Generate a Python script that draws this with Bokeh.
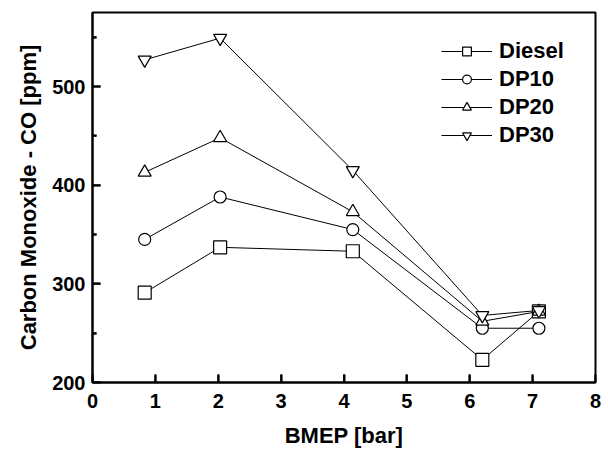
import math
from bokeh.plotting import figure
from bokeh.models import Range1d, FixedTicker, Legend, LegendItem
from bokeh.embed import file_html
from bokeh.resources import INLINE

bmep = [0.83, 2.03, 4.14, 6.2, 7.1]
diesel = [291, 337, 333, 223, 272]
dp10 = [345, 388, 355, 255, 255]
dp20 = [413, 448, 373, 262, 272]
dp30 = [527, 549, 415, 268, 273]
series_names = ["Diesel", "DP10", "DP20", "DP30"]
markers = ["square", "circle", "triangle", "inverted_triangle"]

x_ticks = [0, 1, 2, 3, 4, 5, 6, 7, 8]
y_major = [200, 300, 400, 500]
y_minor = [250, 350, 450, 550]
x_min, x_max = 0, 8
y_min, y_max = 200, 575

FONT = "Liberation Sans"

p = figure(width=608, height=451, output_backend="svg", toolbar_location=None,
           x_range=Range1d(x_min, x_max), y_range=Range1d(y_min, y_max),
           min_border_left=92, min_border_right=13, min_border_top=12, min_border_bottom=69)

p.outline_line_color = "black"
p.outline_line_width = 2
p.xgrid.visible = False
p.ygrid.visible = False
p.background_fill_color = "white"
p.border_fill_color = "white"

# inward tick marks as short screen-length rays from the frame edges
p.ray(x=[x_min] * len(y_major), y=y_major, length=8, angle=0, length_units="screen",
      line_color="black", line_width=2)
p.ray(x=[x_min] * len(y_minor), y=y_minor, length=4, angle=0, length_units="screen",
      line_color="black", line_width=2)
p.ray(x=x_ticks, y=[y_min] * len(x_ticks), length=8, angle=math.pi / 2, length_units="screen",
      line_color="black", line_width=2)

items = []
for name, vals, mk in zip(series_names, [diesel, dp10, dp20, dp30], markers):
    l = p.line(bmep, vals, line_color="black", line_width=1)
    s = p.scatter(bmep, vals, marker=mk, size=13 if mk != "circle" else 12,
                  fill_color="white", line_color="black", line_width=1.2)
    items.append(LegendItem(label=name, renderers=[l, s]))

legend = Legend(items=items)
legend.border_line_color = None
legend.background_fill_alpha = 0
legend.label_text_font = FONT
legend.label_text_font_style = "bold"
legend.label_text_font_size = "22px"
legend.label_text_color = "black"
legend.glyph_width = 51
legend.glyph_height = 22
legend.spacing = 2
legend.label_standoff = 7
legend.margin = 0
legend.padding = 0
legend.location = (349, 234)
p.add_layout(legend)

p.xaxis.ticker = FixedTicker(ticks=x_ticks)
p.yaxis.ticker = FixedTicker(ticks=y_major, minor_ticks=y_minor)

for ax in [p.xaxis[0], p.yaxis[0]]:
    ax.axis_line_width = 2
    ax.axis_line_color = "black"
    ax.major_tick_in = 8
    ax.major_tick_out = 0
    ax.minor_tick_in = 4
    ax.minor_tick_out = 0
    ax.major_tick_line_color = "black"
    ax.major_tick_line_width = 2
    ax.minor_tick_line_color = "black"
    ax.minor_tick_line_width = 2
    ax.major_label_text_font = FONT
    ax.major_label_text_font_style = "bold"
    ax.major_label_text_font_size = "20px"
    ax.major_label_text_color = "black"
    ax.axis_label_text_font = FONT
    ax.axis_label_text_font_style = "bold"
    ax.axis_label_text_font_size = "22px"
    ax.axis_label_text_color = "black"

p.xaxis.minor_tick_line_color = None
p.xaxis.axis_label = "BMEP [bar]"
p.yaxis.axis_label = "Carbon Monoxide - CO [ppm]"
p.xaxis.axis_label_standoff = 12
p.yaxis.axis_label_standoff = 8
p.xaxis.major_label_standoff = 11
p.yaxis.major_label_standoff = 7

open("out.html", "w").write(file_html(p, INLINE))
